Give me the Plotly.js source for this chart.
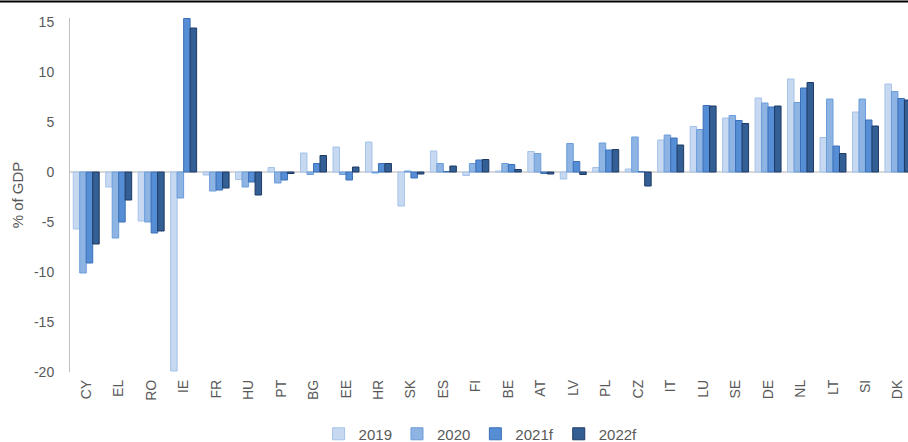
<!DOCTYPE html>
<html>
<head>
<meta charset="utf-8">
<script src="https://cdn.plot.ly/plotly-3.0.1.min.js"></script>
<style>html,body{margin:0;padding:0;background:#fff;}#chart{width:908px;height:442px;}</style>
</head>
<body>
<div id="chart"></div>
<script>
const countries = ["CY","EL","RO","IE","FR","HU","PT","BG","EE","HR","SK","ES","FI","BE","AT","LV","PL","CZ","IT","LU","SE","DE","NL","LT","SI","DK"];
const y2019  = [-5.7,-1.5,-4.9,-19.9,-0.3,-0.75,0.45,1.9,2.5,3.0,-3.4,2.1,-0.35,0.1,2.05,-0.7,0.45,0.3,3.2,4.55,5.4,7.4,9.3,3.45,6.0,8.8];
const y2020  = [-10.1,-6.6,-5.0,-2.6,-1.9,-1.5,-1.1,-0.25,-0.25,-0.1,0.1,0.85,0.85,0.85,1.85,2.85,2.9,3.5,3.7,4.25,5.65,6.9,6.95,7.3,7.3,8.05];
const y2021f = [-9.1,-5.0,-6.1,15.35,-1.8,-1.0,-0.8,0.85,-0.8,0.85,-0.6,0.05,1.2,0.75,-0.15,1.05,2.2,0.05,3.4,6.65,5.15,6.5,8.4,2.6,5.2,7.35];
const y2022f = [-7.2,-2.8,-5.9,14.4,-1.6,-2.3,-0.15,1.65,0.5,0.85,-0.2,0.6,1.25,0.25,-0.2,-0.25,2.25,-1.4,2.7,6.6,4.85,6.6,8.95,1.85,4.6,7.2];
const seriesNames = ["2019","2020","2021f","2022f"];
const yTicks = [-20,-15,-10,-5,0,5,10,15];

const fills = ["#c6d9f1","#8db4e3","#558ed5","#335f95"];
const borders = ["#a6c2ea","#6a9ddb","#3d70b8","#1f3a64"];
const vals = [y2019,y2020,y2021f,y2022f];

const traces = vals.map((v,i)=>({
  type:"bar", x:countries, y:v, name:seriesNames[i],
  marker:{color:fills[i], line:{color:borders[i], width:1}}
}));

const layout = {
  width:908, height:442,
  margin:{l:70, r:0, t:18, b:70},
  paper_bgcolor:"#fff", plot_bgcolor:"#fff",
  barmode:"group", bargap:0.2, bargroupgap:0,
  font:{family:"Liberation Sans, Arial, sans-serif", color:"#595959", size:13},
  xaxis:{
    type:"category", range:[-0.5, 25.31], tickangle:-90,
    showgrid:false, showline:false, zeroline:false, ticks:"", ticklabelstandoff:4,
    tickfont:{size:14, color:"#595959"}, automargin:false
  },
  yaxis:{
    range:[-20,15.4], tickvals:yTicks, ticktext:yTicks.map(String),
    showgrid:false, showline:true, linecolor:"#bfbfbf", linewidth:1,
    zeroline:true, zerolinecolor:"#d9d9d9", zerolinewidth:2,
    ticks:"", ticklen:0, ticklabelstandoff:12, tickfont:{size:14, color:"#595959"},
    title:{text:"% of GDP", font:{size:15, color:"#595959"}, standoff:6}, automargin:false
  },
  legend:{orientation:"h", x:0.49, xanchor:"center", yref:"container", y:0.018, yanchor:"middle",
    font:{size:15, color:"#595959"}, traceorder:"normal", itemwidth:30},
  showlegend:true,
  shapes:[{type:"line", xref:"paper", yref:"paper", x0:-0.1, x1:1.05, y0:1.0466, y1:1.0466,
    line:{color:"#000", width:2}}]
};

Plotly.newPlot("chart", traces, layout, {displayModeBar:false, staticPlot:true});
</script>
</body>
</html>
